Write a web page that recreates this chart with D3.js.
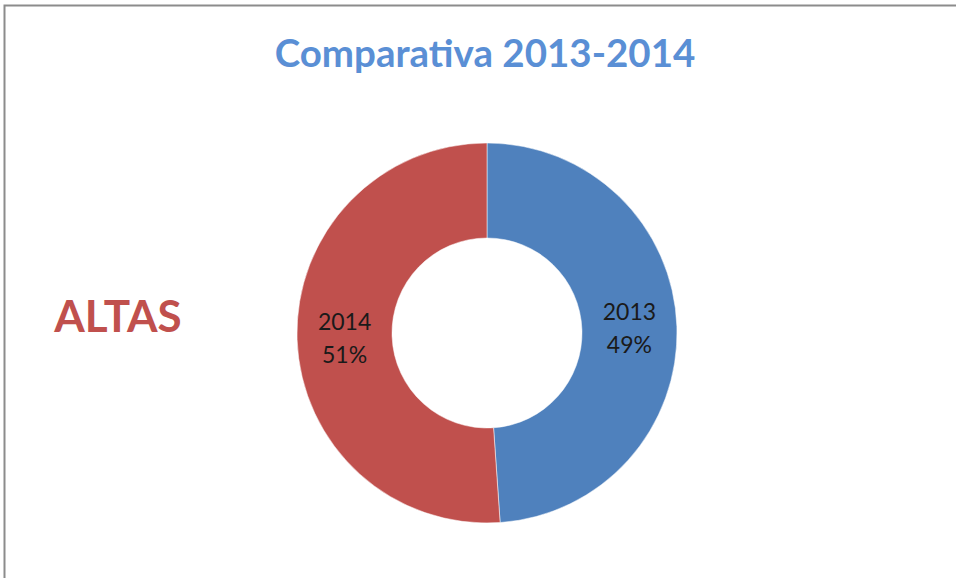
<!DOCTYPE html>
<html><head><meta charset="utf-8">
<script src="https://cdn.jsdelivr.net/npm/d3@7"></script>
<style>body{margin:0;background:#fff}svg{display:block}</style>
</head><body>
<svg id="chart" width="956" height="578"></svg>
<script>
const categories = ["2013", "2014"];
const values = [48.9, 51.1];
const percentLabels = ["49%", "51%"];
const colors = ["#4f81bd", "#c0504d"];
const titleText = "Comparativa 2013-2014";
const sideLabel = "ALTAS";

const svg = d3.select("#chart");
// frame (top and left edges visible)
svg.append("path").attr("d", "M4.5,578V5.5H956").attr("fill", "none")
  .attr("stroke", "#8c8c8c").attr("stroke-width", 2);

svg.append("text").attr("x", 485).attr("y", 67).attr("text-anchor", "middle")
  .attr("font-family", "Lato, 'Open Sans', sans-serif").attr("font-weight", "bold")
  .attr("font-size", 38.5).attr("fill", "#5a8fd5").text(titleText);

svg.append("text").attr("x", 118).attr("y", 332).attr("text-anchor", "middle")
  .attr("font-family", "Lato, 'Open Sans', sans-serif").attr("font-weight", "bold")
  .attr("font-size", 44).attr("fill", "#c0504d").text(sideLabel);

const cx = 487, cy = 333, rOut = 190, rIn = 95;
const g = svg.append("g").attr("transform", `translate(${cx},${cy})`);
const pie = d3.pie().sort(null).value(d => d.v);
const data = categories.map((c, i) => ({c, v: values[i], p: percentLabels[i], col: colors[i]}));
const arcs = pie(data);
const arc = d3.arc().innerRadius(rIn).outerRadius(rOut);
g.selectAll("path.slice").data(arcs).join("path").attr("class", "slice")
  .attr("d", arc).attr("fill", d => d.data.col).attr("stroke", "#fff").attr("stroke-width", 0.5);

const lbl = g.selectAll("text.lbl").data(arcs).join("text").attr("class", "lbl")
  .attr("transform", d => `translate(${arc.centroid(d)})`)
  .attr("text-anchor", "middle").attr("font-family", "Lato, 'Open Sans', sans-serif")
  .attr("font-size", 23).attr("fill", "#1a1a1a");
lbl.append("tspan").attr("x", 0).attr("dy", "-0.35em").text(d => d.data.c);
lbl.append("tspan").attr("x", 0).attr("dy", "1.45em").text(d => d.data.p);
</script>
</body></html>
